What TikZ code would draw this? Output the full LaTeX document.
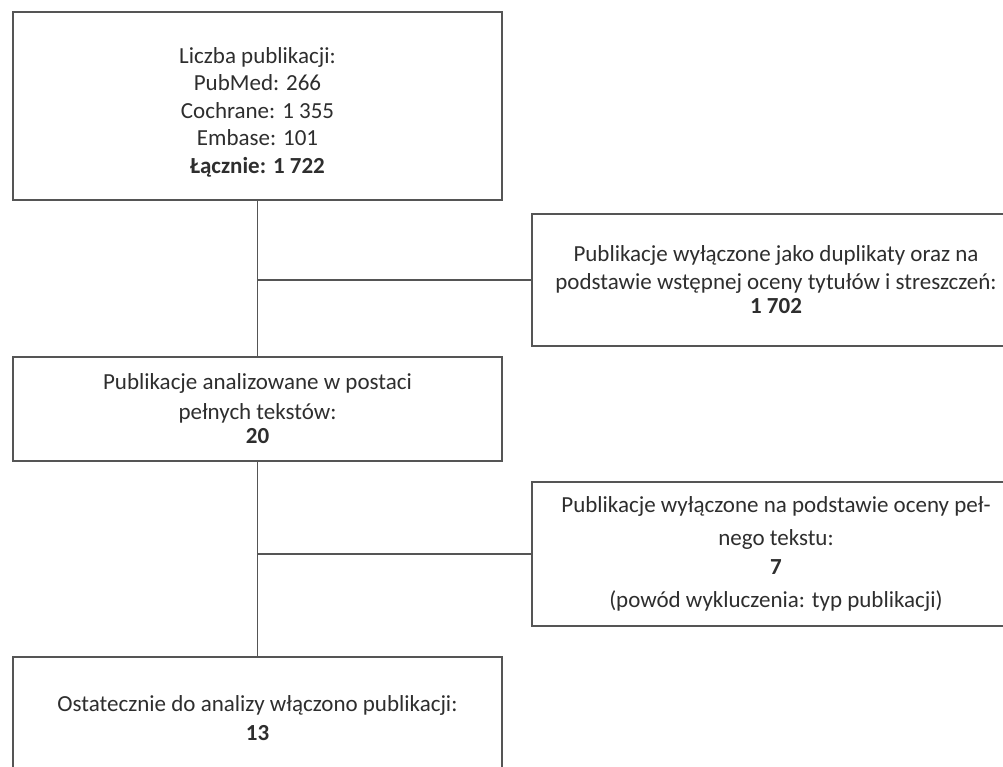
\documentclass[tikz,border=0pt]{standalone}
\usepackage{fontspec}
\setmainfont{Carlito}
\definecolor{txt}{HTML}{2E2E2E}
\definecolor{ln}{HTML}{555555}
\tikzset{
  box/.style={draw=ln, line width=1.8pt, fill=white, inner sep=0pt, align=center,
              text=txt, font=\fontsize{23}{27.5}\selectfont},
  conn/.style={draw=ln, line width=1.8pt}
}
\begin{document}
\begin{tikzpicture}[x=1pt,y=-1pt]
\useasboundingbox (0,0) rectangle (1003,767);
\clip (0,0) rectangle (1003,767);
\fill[white] (0,0) rectangle (1003,767);
\node[box, minimum width=489pt, minimum height=188pt] (b1) at (257.5,106)
  {\rule{0pt}{28pt}Liczba publikacji:\\PubMed: 266\\Cochrane: 1 355\\Embase: 101\\\textbf{Łącznie: 1 722}};
\node[box, minimum width=488pt, minimum height=132pt] (b2) at (776,280)
  {Publikacje wyłączone jako duplikaty oraz na\\[0pt]podstawie wstępnej oceny tytułów i streszczeń:\\[-3pt]\textbf{1 702}};
\node[box, minimum width=489pt, minimum height=104pt] (b3) at (257.5,409)
  {Publikacje analizowane w postaci\\[2pt]pełnych tekstów:\\[-3pt]\textbf{20}};
\node[box, minimum width=488pt, minimum height=144pt] (b4) at (776,554)
  {Publikacje wyłączone na podstawie oceny peł-\\[5pt]nego tekstu:\\[2pt]\textbf{7}\\[5pt](powód wykluczenia: typ publikacji)};
\node[box, minimum width=489pt, minimum height=122pt] (b5) at (257.5,718)
  {Ostatecznie do analizy włączono publikacji:\\[1pt]\textbf{13}};
\draw[conn] (b1.south) -- (b3.north);
\draw[conn] (b3.south) -- (b5.north);
\draw[conn] (b1.south |- b2.west) -- (b2.west);
\draw[conn] (b3.south |- b4.west) -- (b4.west);
\end{tikzpicture}
\end{document}
